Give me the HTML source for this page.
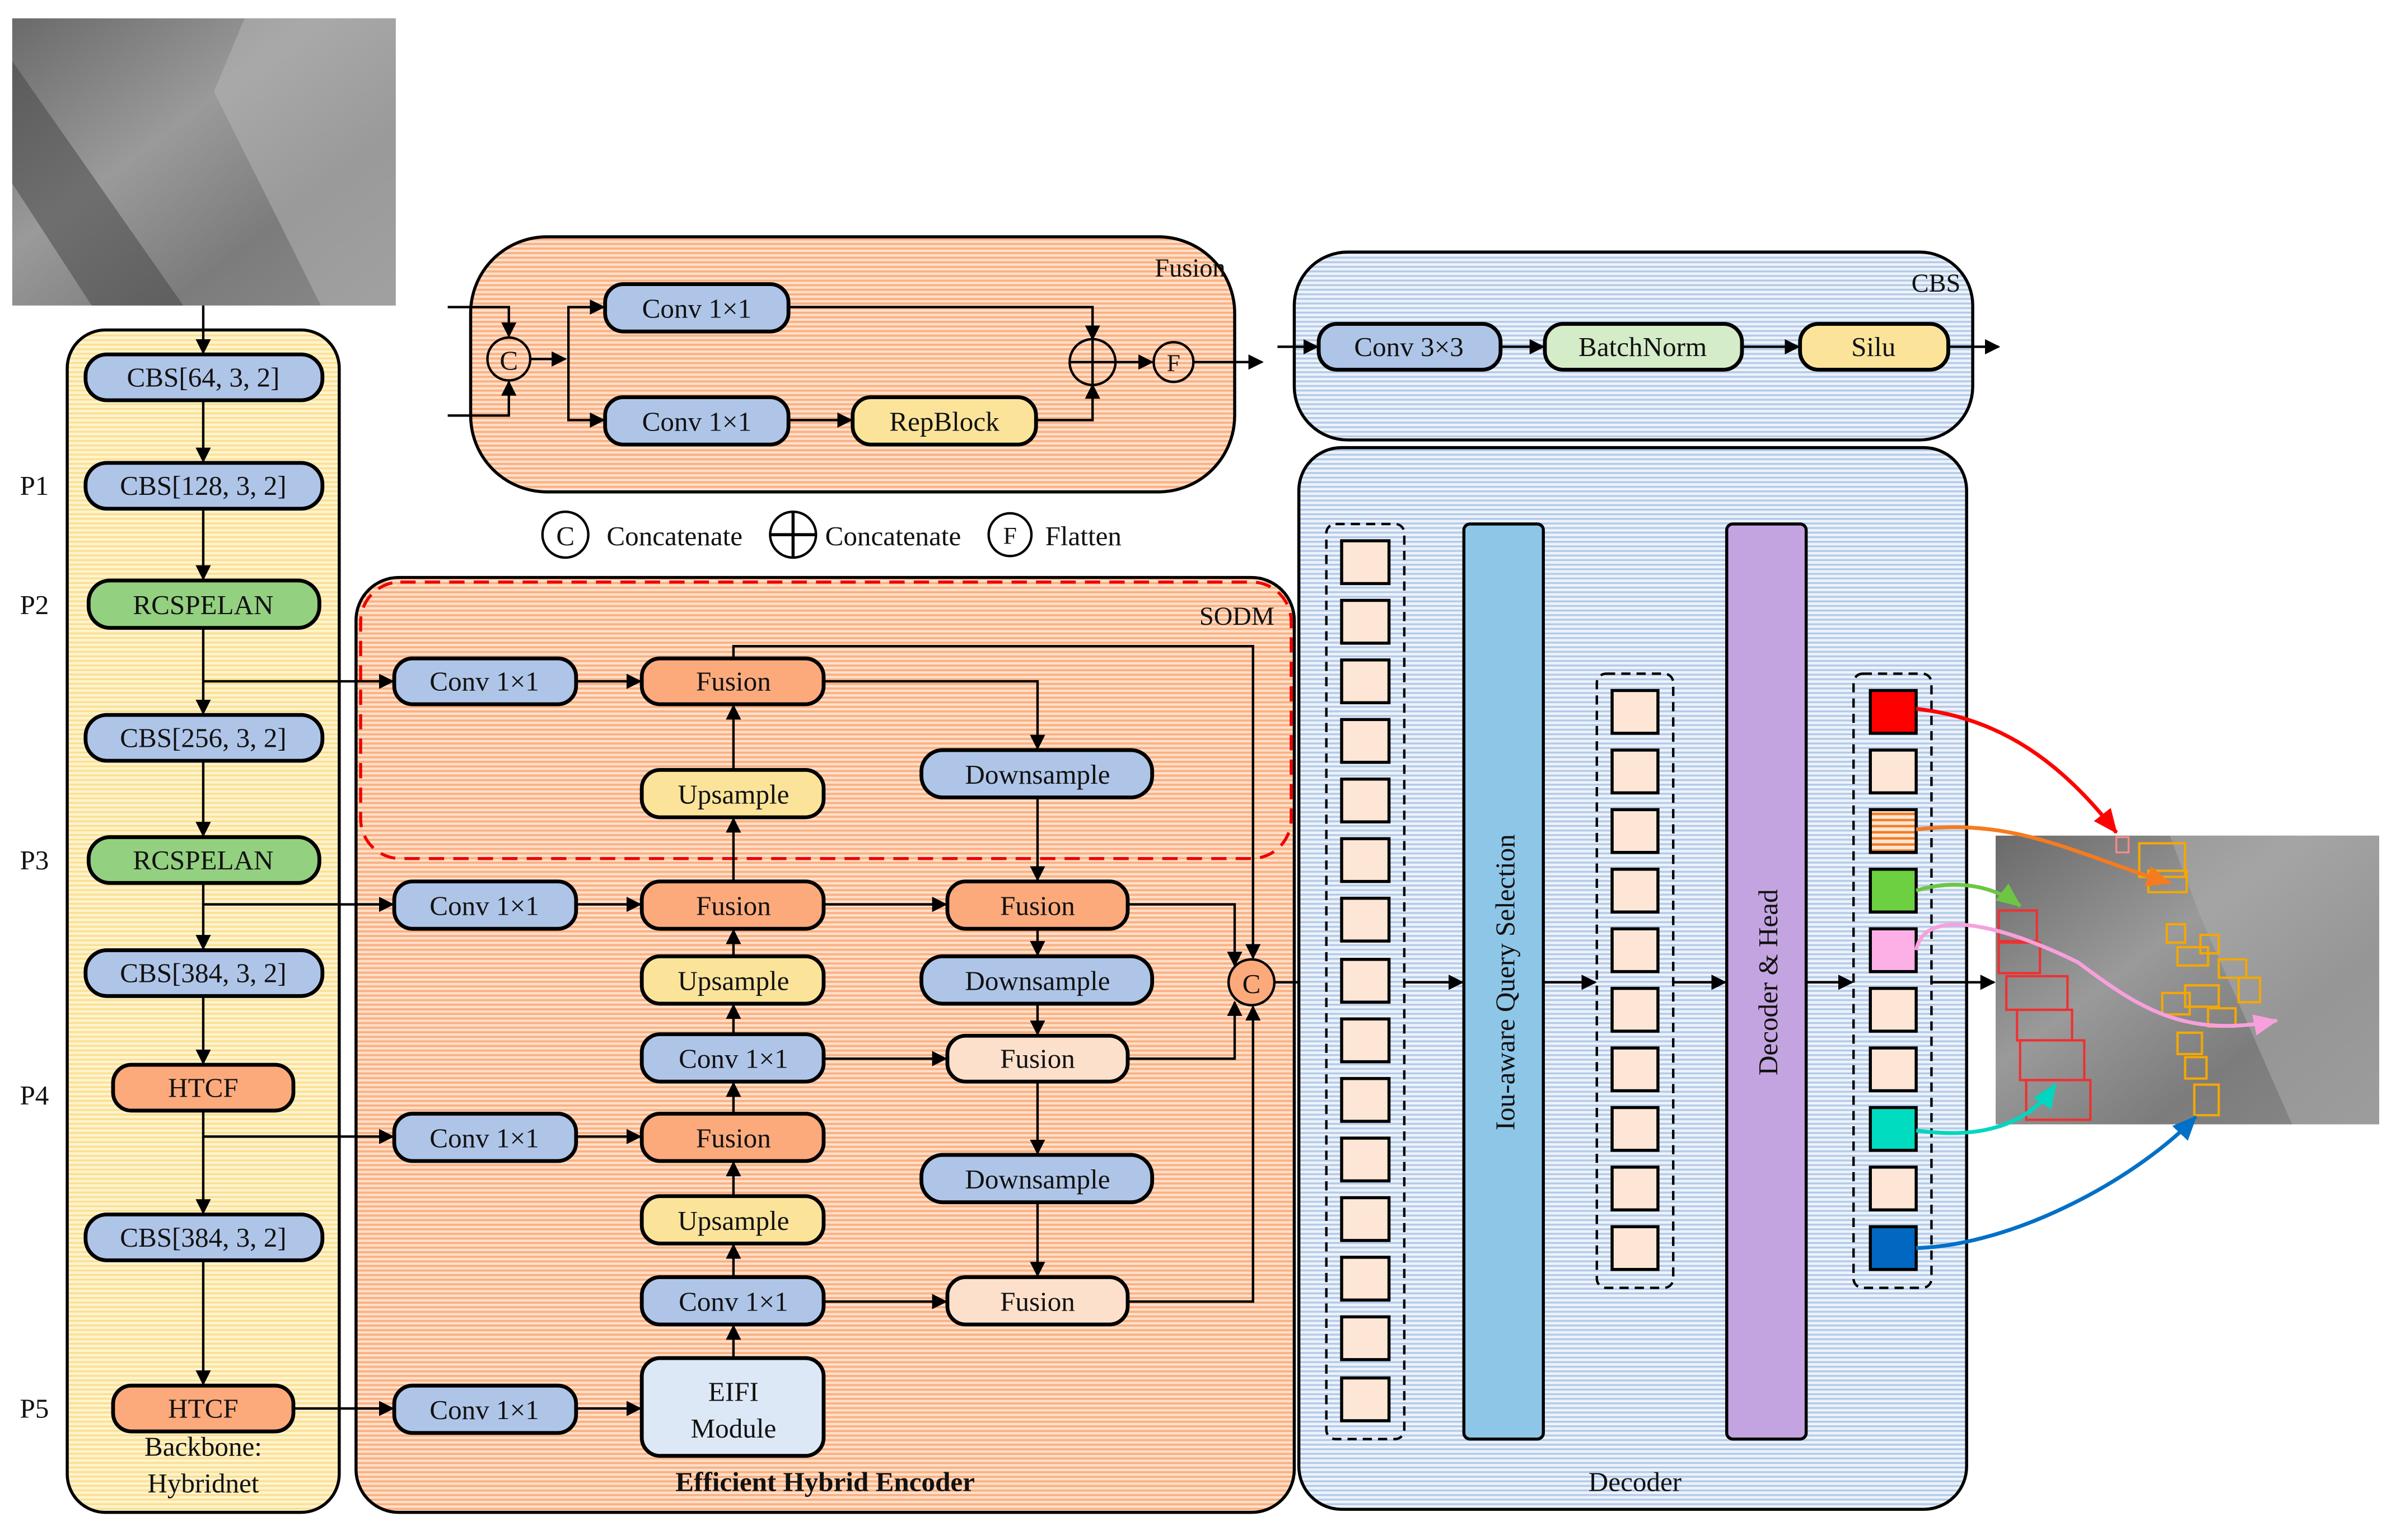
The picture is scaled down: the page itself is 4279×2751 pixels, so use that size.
<!DOCTYPE html>
<html><head><meta charset="utf-8"><style>
html,body{margin:0;padding:0;background:#fff;width:4279px;height:2751px;overflow:hidden}
svg{display:block}
text{font-family:"Liberation Serif",serif;fill:#111}
</style></head><body>
<svg width="4279" height="2751" viewBox="0 0 1568 1008" preserveAspectRatio="xMinYMin meet" xmlns="http://www.w3.org/2000/svg">
<defs>
<marker id="a" markerWidth="10" markerHeight="10" refX="9" refY="5" orient="auto" markerUnits="userSpaceOnUse"><path d="M0,0 L10,5 L0,10 z" fill="#000"/></marker>
<marker id="ar" markerWidth="16" markerHeight="14" refX="15" refY="7" orient="auto" markerUnits="userSpaceOnUse"><path d="M0,0 L16,7 L0,14 z" fill="#f00"/></marker>
<marker id="ao" markerWidth="16" markerHeight="14" refX="15" refY="7" orient="auto" markerUnits="userSpaceOnUse"><path d="M0,0 L16,7 L0,14 z" fill="#f57b20"/></marker>
<marker id="ag" markerWidth="16" markerHeight="14" refX="15" refY="7" orient="auto" markerUnits="userSpaceOnUse"><path d="M0,0 L16,7 L0,14 z" fill="#6cc644"/></marker>
<marker id="ap" markerWidth="16" markerHeight="14" refX="15" refY="7" orient="auto" markerUnits="userSpaceOnUse"><path d="M0,0 L16,7 L0,14 z" fill="#f7a0dc"/></marker>
<marker id="at" markerWidth="16" markerHeight="14" refX="15" refY="7" orient="auto" markerUnits="userSpaceOnUse"><path d="M0,0 L16,7 L0,14 z" fill="#00d6c0"/></marker>
<marker id="ab" markerWidth="16" markerHeight="14" refX="15" refY="7" orient="auto" markerUnits="userSpaceOnUse"><path d="M0,0 L16,7 L0,14 z" fill="#0070c8"/></marker>
<pattern id="py" width="4" height="3" patternUnits="userSpaceOnUse"><rect width="4" height="3" fill="#fdf3d2"/><rect width="4" height="1.2" fill="#fbdf8a"/></pattern>
<pattern id="po" width="4" height="3" patternUnits="userSpaceOnUse"><rect width="4" height="3" fill="#fde0cc"/><rect width="4" height="1.4" fill="#fbb080"/></pattern>
<pattern id="pb" width="4" height="3" patternUnits="userSpaceOnUse"><rect width="4" height="3" fill="#eef3fa"/><rect width="4" height="1.3" fill="#b4cbe8"/></pattern>
<pattern id="pst" width="4" height="4" patternUnits="userSpaceOnUse"><rect width="4" height="4" fill="#fde6d6"/><rect width="4" height="1.6" fill="#f57b20"/></pattern>
<linearGradient id="ph" x1="0" y1="0" x2="1" y2="1"><stop offset="0" stop-color="#6a6a6a"/><stop offset=".4" stop-color="#9a9a9a"/><stop offset=".7" stop-color="#7c7c7c"/><stop offset="1" stop-color="#8a8a8a"/></linearGradient>
</defs>

<rect x="8" y="12" width="251" height="188" fill="url(#ph)"/>
<path d="M8,40 L120,200 L60,200 L8,120z" fill="#444" opacity=".5"/>
<path d="M160,12 L259,12 L259,200 L210,200 L140,60z" fill="#b8b8b8" opacity=".5"/>

<rect x="44" y="216" width="178" height="774" rx="25" fill="url(#py)" stroke="#000" stroke-width="2"/>
<g stroke="#000" stroke-width="1.6" fill="none" marker-end="url(#a)">
<line x1="133" y1="200" x2="133" y2="231"/>
<line x1="133" y1="262" x2="133" y2="302"/>
<line x1="133" y1="333" x2="133" y2="379"/>
<line x1="133" y1="412" x2="133" y2="467"/>
<line x1="133" y1="498" x2="133" y2="547"/>
<line x1="133" y1="579" x2="133" y2="621"/>
<line x1="133" y1="652" x2="133" y2="696"/>
<line x1="133" y1="727" x2="133" y2="794"/>
<line x1="133" y1="825" x2="133" y2="906"/>
</g>
<g stroke="#000" stroke-width="2.5">
<rect x="56" y="232" width="155" height="30" rx="14" fill="#afc5e8"/>
<rect x="56" y="303" width="155" height="30" rx="14" fill="#afc5e8"/>
<rect x="58" y="380" width="151" height="31" rx="14" fill="#93d080"/>
<rect x="56" y="468" width="155" height="30" rx="14" fill="#afc5e8"/>
<rect x="58" y="548" width="151" height="30" rx="14" fill="#93d080"/>
<rect x="56" y="622" width="155" height="30" rx="14" fill="#afc5e8"/>
<rect x="74" y="697" width="118" height="30" rx="12" fill="#fcaa7c"/>
<rect x="56" y="795" width="155" height="30" rx="14" fill="#afc5e8"/>
<rect x="74" y="907" width="118" height="30" rx="12" fill="#fcaa7c"/>
</g>
<g font-size="18" text-anchor="middle">
<text x="133" y="253">CBS[64, 3, 2]</text>
<text x="133" y="324">CBS[128, 3, 2]</text>
<text x="133" y="402">RCSPELAN</text>
<text x="133" y="489">CBS[256, 3, 2]</text>
<text x="133" y="569">RCSPELAN</text>
<text x="133" y="643">CBS[384, 3, 2]</text>
<text x="133" y="718">HTCF</text>
<text x="133" y="816">CBS[384, 3, 2]</text>
<text x="133" y="928">HTCF</text>
<text x="133" y="953">Backbone:</text>
<text x="133" y="977">Hybridnet</text>
</g>
<g font-size="18">
<text x="13" y="324">P1</text><text x="13" y="402">P2</text><text x="13" y="569">P3</text><text x="13" y="723">P4</text><text x="13" y="928">P5</text>
</g>

<rect x="308" y="155" width="500" height="167" rx="50" fill="url(#po)" stroke="#000" stroke-width="2"/>
<text x="802" y="181" font-size="17" text-anchor="end">Fusion</text>
<g stroke="#000" stroke-width="1.6" fill="none">
<polyline points="293,201 333,201 333,220" marker-end="url(#a)"/>
<polyline points="293,272 333,272 333,250" marker-end="url(#a)"/>
<line x1="347" y1="235" x2="370" y2="235" marker-end="url(#a)"/>
<polyline points="372,235 372,201 395,201" marker-end="url(#a)"/>
<polyline points="372,235 372,275 395,275" marker-end="url(#a)"/>
<polyline points="516,201 715,201 715,222" marker-end="url(#a)"/>
<line x1="516" y1="275" x2="557" y2="275" marker-end="url(#a)"/>
<polyline points="678,275 715,275 715,252" marker-end="url(#a)"/>
<line x1="729" y1="237" x2="754" y2="237" marker-end="url(#a)"/>
<line x1="781" y1="237" x2="826" y2="237" marker-end="url(#a)"/>
</g>
<circle cx="333" cy="235" r="14" fill="url(#po)" stroke="#000" stroke-width="1.6"/>
<text x="333" y="242" font-size="18" text-anchor="middle">C</text>
<circle cx="715" cy="237" r="15" fill="url(#po)" stroke="#000" stroke-width="1.6"/>
<path d="M700,237h30M715,222v30" stroke="#000" stroke-width="1.6"/>
<circle cx="768" cy="237" r="13" fill="url(#po)" stroke="#000" stroke-width="1.6"/>
<text x="768" y="243" font-size="16" text-anchor="middle">F</text>
<g stroke="#000" stroke-width="2.5">
<rect x="396" y="186" width="120" height="31" rx="12" fill="#afc5e8"/>
<rect x="396" y="260" width="120" height="31" rx="12" fill="#afc5e8"/>
<rect x="558" y="260" width="120" height="31" rx="12" fill="#fbe49a"/>
</g>
<g font-size="18" text-anchor="middle">
<text x="456" y="208">Conv 1×1</text><text x="456" y="282">Conv 1×1</text><text x="618" y="282">RepBlock</text>
</g>

<circle cx="370" cy="350" r="15" fill="#fff" stroke="#000" stroke-width="1.6"/>
<text x="370" y="357" font-size="18" text-anchor="middle">C</text>
<text x="397" y="357" font-size="18">Concatenate</text>
<circle cx="519" cy="350" r="15" fill="#fff" stroke="#000" stroke-width="1.6"/>
<path d="M504,350h30M519,335v30" stroke="#000" stroke-width="2"/>
<text x="540" y="357" font-size="18">Concatenate</text>
<circle cx="661" cy="350" r="14" fill="#fff" stroke="#000" stroke-width="1.6"/>
<text x="661" y="356" font-size="16" text-anchor="middle">F</text>
<text x="684" y="357" font-size="18">Flatten</text>

<rect x="847" y="165" width="444" height="123" rx="35" fill="url(#pb)" stroke="#000" stroke-width="2"/>
<text x="1283" y="191" font-size="17" text-anchor="end">CBS</text>
<g stroke="#000" stroke-width="1.6" marker-end="url(#a)">
<line x1="836" y1="227" x2="862" y2="227"/>
<line x1="982" y1="227" x2="1010" y2="227"/>
<line x1="1140" y1="227" x2="1177" y2="227"/>
<line x1="1275" y1="227" x2="1308" y2="227"/>
</g>
<g stroke="#000" stroke-width="2.5">
<rect x="863" y="212" width="119" height="30" rx="12" fill="#afc5e8"/>
<rect x="1011" y="212" width="129" height="30" rx="12" fill="#d4ecc8"/>
<rect x="1178" y="212" width="97" height="30" rx="12" fill="#fbe49a"/>
</g>
<g font-size="18" text-anchor="middle">
<text x="922" y="233">Conv 3×3</text><text x="1075" y="233">BatchNorm</text><text x="1226" y="233">Silu</text>
</g>

<rect x="233" y="378" width="614" height="612" rx="28" fill="url(#po)" stroke="#000" stroke-width="2"/>
<rect x="236" y="381" width="609" height="181" rx="26" fill="none" stroke="#e00" stroke-width="2" stroke-dasharray="10,6"/>
<text x="834" y="409" font-size="17" text-anchor="end">SODM</text>
<text x="540" y="976" font-size="18" font-weight="bold" text-anchor="middle">Efficient Hybrid Encoder</text>

<g stroke="#000" stroke-width="1.6" fill="none" marker-end="url(#a)">
<line x1="133" y1="446" x2="257" y2="446"/>
<line x1="133" y1="592" x2="257" y2="592"/>
<line x1="133" y1="744" x2="257" y2="744"/>
<line x1="192" y1="922" x2="257" y2="922"/>
<line x1="377" y1="446" x2="419" y2="446"/>
<line x1="377" y1="592" x2="419" y2="592"/>
<line x1="377" y1="744" x2="419" y2="744"/>
<line x1="377" y1="922" x2="419" y2="922"/>
<line x1="480" y1="504" x2="480" y2="462"/>
<line x1="480" y1="577" x2="480" y2="536"/>
<line x1="480" y1="626" x2="480" y2="609"/>
<line x1="480" y1="677" x2="480" y2="658"/>
<line x1="480" y1="729" x2="480" y2="709"/>
<line x1="480" y1="783" x2="480" y2="761"/>
<line x1="480" y1="836" x2="480" y2="815"/>
<line x1="480" y1="889" x2="480" y2="868"/>
<polyline points="539,446 679,446 679,490"/>
<line x1="679" y1="522" x2="679" y2="576"/>
<line x1="679" y1="608" x2="679" y2="625"/>
<line x1="679" y1="657" x2="679" y2="677"/>
<line x1="679" y1="708" x2="679" y2="755"/>
<line x1="679" y1="787" x2="679" y2="835"/>
<line x1="539" y1="592" x2="619" y2="592"/>
<line x1="539" y1="693" x2="619" y2="693"/>
<line x1="539" y1="852" x2="619" y2="852"/>
<polyline points="480,431 480,423 820,423 820,627"/>
<polyline points="738,592 808,592 808,632"/>
<polyline points="738,693 808,693 808,656"/>
<polyline points="738,852 820,852 820,659"/>
<line x1="834" y1="643" x2="869" y2="643"/>
</g>
<circle cx="819" cy="643" r="15" fill="#fcaa7c" stroke="#000" stroke-width="1.6"/>
<text x="819" y="650" font-size="18" text-anchor="middle">C</text>
<g stroke="#000" stroke-width="2.5">
<rect x="258" y="431" width="119" height="30" rx="12" fill="#afc5e8"/>
<rect x="420" y="431" width="119" height="30" rx="12" fill="#fcaa7c"/>
<rect x="420" y="504" width="119" height="31" rx="12" fill="#fbe49a"/>
<rect x="603" y="491" width="151" height="31" rx="14" fill="#afc5e8"/>
<rect x="258" y="577" width="119" height="31" rx="12" fill="#afc5e8"/>
<rect x="420" y="577" width="119" height="31" rx="12" fill="#fcaa7c"/>
<rect x="620" y="577" width="118" height="31" rx="12" fill="#fcaa7c"/>
<rect x="420" y="626" width="119" height="31" rx="12" fill="#fbe49a"/>
<rect x="603" y="626" width="151" height="31" rx="14" fill="#afc5e8"/>
<rect x="420" y="677" width="119" height="31" rx="12" fill="#afc5e8"/>
<rect x="620" y="678" width="118" height="30" rx="12" fill="#fde0cc"/>
<rect x="258" y="729" width="119" height="31" rx="12" fill="#afc5e8"/>
<rect x="420" y="729" width="119" height="31" rx="12" fill="#fcaa7c"/>
<rect x="603" y="756" width="151" height="31" rx="14" fill="#afc5e8"/>
<rect x="420" y="783" width="119" height="31" rx="12" fill="#fbe49a"/>
<rect x="420" y="836" width="119" height="31" rx="12" fill="#afc5e8"/>
<rect x="620" y="836" width="118" height="31" rx="12" fill="#fde0cc"/>
<rect x="258" y="907" width="119" height="31" rx="12" fill="#afc5e8"/>
<rect x="420" y="889" width="119" height="64" rx="12" fill="#dde8f6"/>
</g>
<g font-size="18" text-anchor="middle">
<text x="317" y="452">Conv 1×1</text><text x="480" y="452">Fusion</text><text x="480" y="526">Upsample</text><text x="679" y="513">Downsample</text>
<text x="317" y="599">Conv 1×1</text><text x="480" y="599">Fusion</text><text x="679" y="599">Fusion</text>
<text x="480" y="648">Upsample</text><text x="679" y="648">Downsample</text>
<text x="480" y="699">Conv 1×1</text><text x="679" y="699">Fusion</text>
<text x="317" y="751">Conv 1×1</text><text x="480" y="751">Fusion</text><text x="679" y="778">Downsample</text>
<text x="480" y="805">Upsample</text>
<text x="480" y="858">Conv 1×1</text><text x="679" y="858">Fusion</text>
<text x="317" y="929">Conv 1×1</text><text x="480" y="917">EIFI</text><text x="480" y="941">Module</text>
</g>

<rect x="850" y="293" width="437" height="695" rx="28" fill="url(#pb)" stroke="#000" stroke-width="2"/>
<text x="1070" y="976" font-size="18" text-anchor="middle">Decoder</text>
<g stroke="#000" stroke-width="1.6" fill="none" stroke-dasharray="6,4">
<rect x="868" y="343" width="51" height="599" rx="6"/>
<rect x="1045" y="441" width="50" height="402" rx="6"/>
<rect x="1213" y="441" width="51" height="402" rx="6"/>
</g>
<g stroke="#000" stroke-width="2" fill="#fde6d6">
<rect x="878" y="354" width="31" height="28"/><rect x="878" y="393" width="31" height="28"/><rect x="878" y="432" width="31" height="28"/><rect x="878" y="471" width="31" height="28"/><rect x="878" y="510" width="31" height="28"/><rect x="878" y="549" width="31" height="28"/><rect x="878" y="588" width="31" height="28"/><rect x="878" y="628" width="31" height="28"/><rect x="878" y="667" width="31" height="28"/><rect x="878" y="706" width="31" height="28"/><rect x="878" y="745" width="31" height="28"/><rect x="878" y="784" width="31" height="28"/><rect x="878" y="823" width="31" height="28"/><rect x="878" y="862" width="31" height="28"/><rect x="878" y="902" width="31" height="28"/>
<rect x="1055" y="452" width="30" height="28"/><rect x="1055" y="491" width="30" height="28"/><rect x="1055" y="530" width="30" height="28"/><rect x="1055" y="569" width="30" height="28"/><rect x="1055" y="608" width="30" height="28"/><rect x="1055" y="647" width="30" height="28"/><rect x="1055" y="686" width="30" height="28"/><rect x="1055" y="725" width="30" height="28"/><rect x="1055" y="764" width="30" height="28"/><rect x="1055" y="803" width="30" height="28"/>
<rect x="1224" y="452" width="30" height="28" fill="#f00"/><rect x="1224" y="491" width="30" height="28"/><rect x="1224" y="530" width="30" height="28" fill="url(#pst)"/><rect x="1224" y="569" width="30" height="28" fill="#6cd040"/><rect x="1224" y="608" width="30" height="28" fill="#fcb0e6"/><rect x="1224" y="647" width="30" height="28"/><rect x="1224" y="686" width="30" height="28"/><rect x="1224" y="725" width="30" height="28" fill="#00dcc0"/><rect x="1224" y="764" width="30" height="28"/><rect x="1224" y="803" width="30" height="28" fill="#0068c0"/>
</g>
<rect x="958" y="343" width="52" height="599" rx="4" fill="#8ec6e8" stroke="#000" stroke-width="2"/>
<rect x="1130" y="343" width="52" height="599" rx="4" fill="#c4a4e0" stroke="#000" stroke-width="2"/>
<text transform="translate(991,643) rotate(-90)" font-size="18" text-anchor="middle">Iou-aware Query Selection</text>
<text transform="translate(1163,643) rotate(-90)" font-size="18" text-anchor="middle">Decoder &amp; Head</text>
<g stroke="#000" stroke-width="1.6" marker-end="url(#a)">
<line x1="919" y1="643" x2="957" y2="643"/>
<line x1="1010" y1="643" x2="1044" y2="643"/>
<line x1="1095" y1="643" x2="1129" y2="643"/>
<line x1="1182" y1="643" x2="1212" y2="643"/>
<line x1="1264" y1="643" x2="1305" y2="643"/>
</g>

<rect x="1306" y="547" width="251" height="189" fill="url(#ph)"/>
<path d="M1420,547 L1557,547 L1557,736 L1500,736 L1440,600z" fill="#b0b0b0" opacity=".5"/>
<g fill="none" stroke="#f03030" stroke-width="1.5">
<rect x="1308" y="596" width="25" height="20"/><rect x="1308" y="617" width="27" height="20"/><rect x="1313" y="639" width="40" height="22"/><rect x="1320" y="661" width="36" height="20"/><rect x="1322" y="681" width="42" height="26"/><rect x="1326" y="707" width="42" height="26"/>
</g>
<g fill="none" stroke="#f5a800" stroke-width="1.5">
<rect x="1400" y="552" width="30" height="22"/><rect x="1406" y="570" width="25" height="14"/><rect x="1418" y="605" width="12" height="12"/><rect x="1425" y="620" width="20" height="12"/><rect x="1440" y="612" width="12" height="12"/><rect x="1452" y="628" width="18" height="12"/><rect x="1415" y="650" width="18" height="14"/><rect x="1430" y="645" width="22" height="14"/><rect x="1445" y="660" width="18" height="12"/><rect x="1465" y="640" width="14" height="16"/><rect x="1425" y="676" width="16" height="14"/><rect x="1430" y="692" width="14" height="14"/><rect x="1436" y="710" width="16" height="20"/>
</g>
<rect x="1385" y="548" width="8" height="10" fill="none" stroke="#f88" stroke-width="1.2"/>
<g fill="none" stroke-width="2.5">
<path d="M1254,464 C1310,470 1350,500 1385,545" stroke="#f00" marker-end="url(#ar)"/>
<path d="M1254,543 C1320,535 1360,560 1420,578" stroke="#f57b20" marker-end="url(#ao)"/>
<path d="M1254,583 C1280,575 1305,580 1322,593" stroke="#6cc644" marker-end="url(#ag)"/>
<path d="M1254,622 C1260,590 1320,610 1360,630 C1400,660 1430,680 1490,668" stroke="#f7a0dc" marker-end="url(#ap)"/>
<path d="M1254,740 C1290,745 1325,740 1345,710" stroke="#00d6c0" marker-end="url(#at)"/>
<path d="M1254,817 C1320,815 1400,770 1437,731" stroke="#0070c8" marker-end="url(#ab)"/>
</g>
</svg>
</body></html>
